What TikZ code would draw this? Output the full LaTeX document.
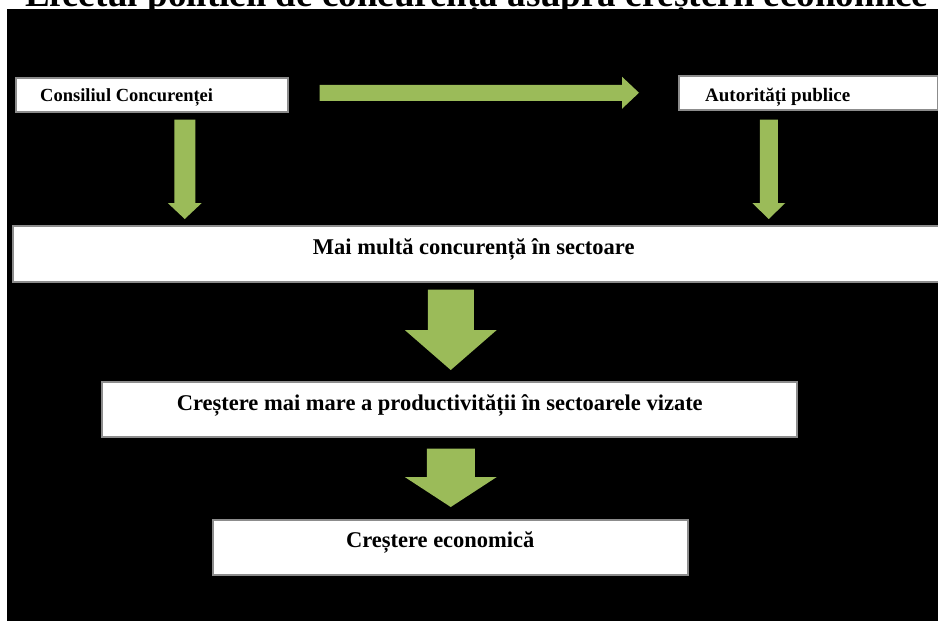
\documentclass[tikz,border=0pt]{standalone}
\usepackage{fontspec}
\setmainfont{Liberation Serif}
\usetikzlibrary{calc}
\definecolor{arrowgreen}{HTML}{9BBB59}
\definecolor{boxborder}{HTML}{8C8C8C}
\tikzset{
  box/.style={draw=boxborder, line width=1.5pt, fill=white, anchor=north west, inner sep=0pt, rectangle},
  boxtext/.style={inner sep=0pt, font=\bfseries\fontsize{22.5}{26}\selectfont, text=black},
  smalltext/.style={inner sep=0pt, font=\bfseries\fontsize{18.5}{22}\selectfont, text=black, anchor=base west},
  arrowfill/.style={fill=arrowgreen}
}
\newcommand\BlockArrowDown[5]{%
  \fill[arrowfill] ($(#1)+(-#3,0)$) -- ($(#1)+(#3,0)$) -- ($(#2)+(#3,-#5)$) -- ($(#2)+(#4,-#5)$) -- (#2) -- ($(#2)+(-#4,-#5)$) -- ($(#2)+(-#3,-#5)$) -- cycle;}
\newcommand\BlockArrowRight[5]{%
  \fill[arrowfill] ($(#1)+(0,-#3)$) -- ($(#2)+(-#5,-#3)$) -- ($(#2)+(-#5,-#4)$) -- (#2) -- ($(#2)+(-#5,#4)$) -- ($(#2)+(-#5,#3)$) -- ($(#1)+(0,#3)$) -- cycle;}
\begin{document}
\begin{tikzpicture}[x=1pt,y=-1pt]
\useasboundingbox (0,0) rectangle (938,621);
\clip (0,0) rectangle (938,621);
\fill[white] (0,0) rectangle (938,621);
% title (mostly cut off above the picture)
\node[inner sep=0pt, anchor=base west, font=\bfseries\fontsize{37}{40}\selectfont] (title) at (25,6) {Efectul politicii de concurență asupra creșterii economice};
% black background
\fill[black] (7,9) rectangle (938,621);
% boxes
\node[box, minimum width=272, minimum height=34] (cc) at (15,77) {};
\node[box, minimum width=259, minimum height=34] (ap) at (678,75) {};
\node[box, minimum width=930, minimum height=56] (mm) at (12,225) {};
\node[box, minimum width=695, minimum height=55] (pm) at (101,381) {};
\node[box, minimum width=475, minimum height=55] (ce) at (212,519) {};
% texts
\node[smalltext] (cct) at ($(cc.north west)+(25,24)$) {Consiliul Concurenței};
\node[smalltext, font=\bfseries\fontsize{19}{22}\selectfont] (apt) at ($(ap.north west)+(27,26)$) {Autorități publice};
\node[boxtext, anchor=base] (mmt) at ($(mm.north)+(-4,29)$) {Mai multă concurență în sectoare};
\node[boxtext, anchor=base] (pmt) at ($(pm.north)+(-9.5,29)$) {Creștere mai mare a productivității în sectoarele vizate};
\node[boxtext, anchor=base] (cet) at ($(ce.north)+(-10,28)$) {Creștere economică};
% arrow anchor coordinates
\coordinate (hs) at ($(cc.east)+(31,-2)$);
\coordinate (he) at ($(ap.west)+(-39,0)$);
\coordinate (a1s) at ($(cc.south)+(33,7)$);
\coordinate (a1e) at ($(a1s |- mm.north)+(0,-6)$);
\coordinate (a2s) at ($(ap.south)+(-39.5,9)$);
\coordinate (a2e) at ($(a2s |- mm.north)+(0,-6)$);
\coordinate (a3s) at ($(mm.south)+(-27,7)$);
\coordinate (a3e) at ($(a3s |- pm.north)+(0,-11)$);
\coordinate (a4s) at ($(pm.south)+(1.5,11)$);
\coordinate (a4e) at ($(a4s |- ce.north)+(0,-12)$);
% arrows
\BlockArrowRight{hs}{he}{8}{16}{17}
\BlockArrowDown{a1s}{a1e}{10.5}{17}{16}
\BlockArrowDown{a2s}{a2e}{9}{16.5}{16}
\BlockArrowDown{a3s}{a3e}{23}{46}{40}
\BlockArrowDown{a4s}{a4e}{24}{46}{30}
\end{tikzpicture}
\end{document}
